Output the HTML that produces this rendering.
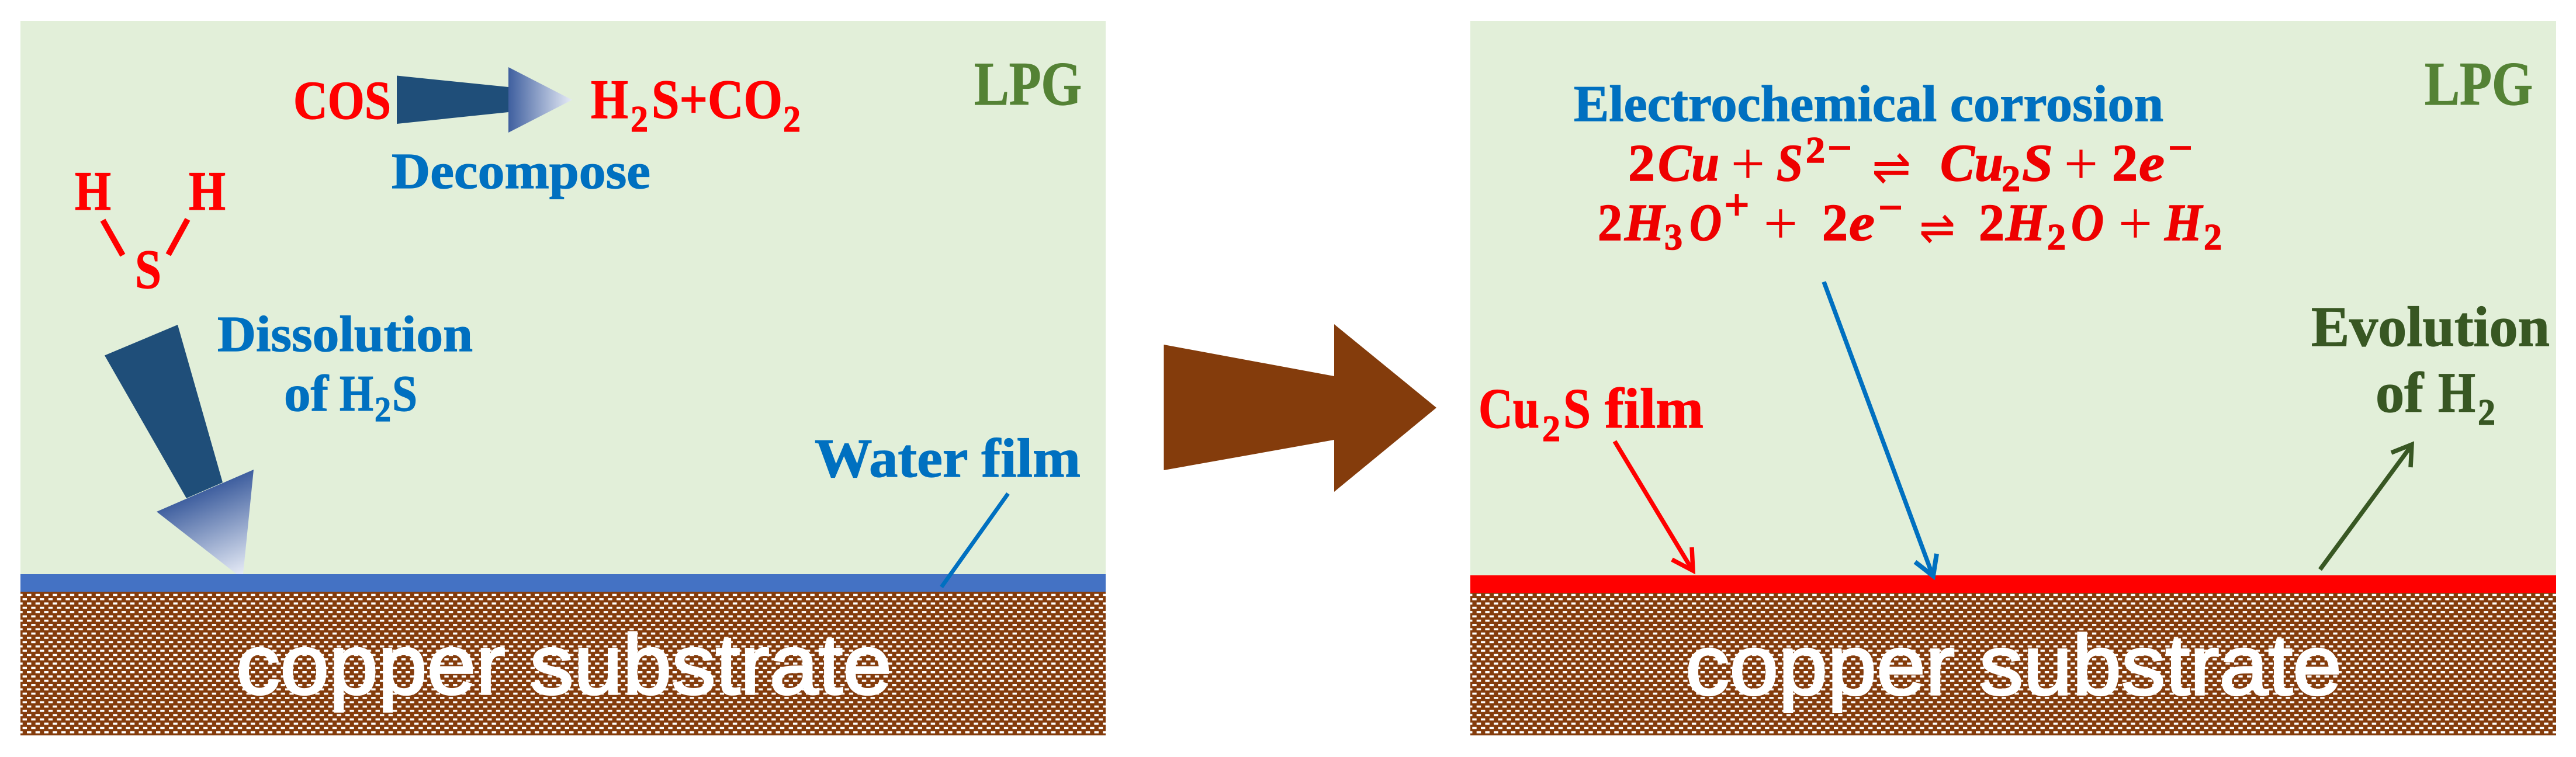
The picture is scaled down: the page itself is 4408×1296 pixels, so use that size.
<!DOCTYPE html>
<html lang="en">
<head>
<meta charset="utf-8">
<title>Copper corrosion diagram</title>
<style>
html,body{margin:0;padding:0;background:#fff;width:4408px;height:1296px;overflow:hidden}
svg{display:block}
text{font-family:"Liberation Serif",serif;font-weight:700}
.r{fill:#ff0000;stroke:#ff0000;stroke-width:1.2px}
.b{fill:#0070c0;stroke:#0070c0;stroke-width:1.2px}
.g{fill:#548235;stroke:#548235;stroke-width:1.2px}
.d{fill:#385723;stroke:#385723;stroke-width:1.2px}
.m{fill:#ee0000;stroke:#ee0000;stroke-width:1.5px}
.i{font-style:italic}
.p{font-weight:400;text-anchor:middle;stroke-width:0}
.s{font-family:"Liberation Sans",sans-serif;font-weight:400;fill:#fff;stroke:#fff;stroke-width:3.5px;font-size:146px}
.h{font-family:"DejaVu Sans",sans-serif;font-weight:400;fill:#ee0000}
</style>
</head>
<body>
<svg xmlns="http://www.w3.org/2000/svg" width="4408" height="1296" viewBox="0 0 4408 1296">
<defs>
<pattern id="brickL" patternUnits="userSpaceOnUse" x="46" y="1016.7" width="14.73" height="14.7">
<rect x="-10" y="-10" width="40" height="40" fill="#843c0c"/>
<rect x="0" y="0" width="7.5" height="3.6" fill="#fff"/>
<rect x="7.36" y="7.35" width="7.5" height="3.6" fill="#fff"/>
</pattern>
<pattern id="brickR" patternUnits="userSpaceOnUse" x="2526.7" y="1016.7" width="14.73" height="14.7">
<rect x="-10" y="-10" width="40" height="40" fill="#843c0c"/>
<rect x="0" y="0" width="7.5" height="3.6" fill="#fff"/>
<rect x="7.36" y="7.35" width="7.5" height="3.6" fill="#fff"/>
</pattern>
<linearGradient id="g1" gradientUnits="userSpaceOnUse" x1="870" y1="171" x2="979" y2="171">
<stop offset="0" stop-color="#3f5f9f"/><stop offset="1" stop-color="#e6ebf6"/>
</linearGradient>
<linearGradient id="g2" gradientUnits="userSpaceOnUse" x1="351" y1="840" x2="412" y2="985">
<stop offset="0" stop-color="#3f5f9f"/><stop offset="1" stop-color="#e6ebf6"/>
</linearGradient>
</defs>

<!-- left panel -->
<rect x="35" y="36" width="1857" height="947" fill="#e2efd9"/>
<rect x="35" y="983" width="1857" height="30" fill="#4472c4"/>
<rect x="35" y="1013" width="1857" height="246" fill="url(#brickL)"/>
<text class="s" x="404" y="1188" textLength="1122" lengthAdjust="spacingAndGlyphs">copper substrate</text>

<text class="g" x="1667" y="179" font-size="106" textLength="184" lengthAdjust="spacingAndGlyphs">LPG</text>

<text class="r" x="502" y="203" font-size="93" textLength="167" lengthAdjust="spacingAndGlyphs">COS</text>
<polygon points="679,129.5 870,149 870,192 679,212" fill="#1f4e79"/>
<polygon points="870,115 979,171 870,227" fill="url(#g1)"/>
<text class="r" x="1011" y="202" font-size="95" textLength="64" lengthAdjust="spacingAndGlyphs">H</text>
<text class="r" x="1079" y="225" font-size="64" textLength="30" lengthAdjust="spacingAndGlyphs">2</text>
<text class="r" x="1115" y="202" font-size="95" textLength="224" lengthAdjust="spacingAndGlyphs">S+CO</text>
<text class="r" x="1340" y="225" font-size="64" textLength="30" lengthAdjust="spacingAndGlyphs">2</text>
<text class="b" x="670" y="322" font-size="87" textLength="443" lengthAdjust="spacingAndGlyphs">Decompose</text>

<text class="r" x="128" y="359" font-size="95" textLength="62" lengthAdjust="spacingAndGlyphs">H</text>
<text class="r" x="323" y="359" font-size="95" textLength="63" lengthAdjust="spacingAndGlyphs">H</text>
<text class="r" x="231" y="493" font-size="95" textLength="45" lengthAdjust="spacingAndGlyphs">S</text>
<line x1="176" y1="377" x2="210" y2="437" stroke="#ff0000" stroke-width="10"/>
<line x1="321" y1="375.5" x2="288" y2="436" stroke="#ff0000" stroke-width="10"/>

<polygon points="304,556 179,608.5 319,853 381,826" fill="#1f4e79"/>
<polygon points="434,804 268,876 405,983 416,983" fill="url(#g2)"/>
<text class="b" x="372" y="601" font-size="87" textLength="437" lengthAdjust="spacingAndGlyphs">Dissolution</text>
<text class="b" x="486" y="703" font-size="88" textLength="76" lengthAdjust="spacingAndGlyphs">of</text>
<text class="b" x="581" y="703" font-size="88" textLength="58" lengthAdjust="spacingAndGlyphs">H</text>
<text class="b" x="641" y="721" font-size="60" textLength="28" lengthAdjust="spacingAndGlyphs">2</text>
<text class="b" x="671" y="703" font-size="88" textLength="43" lengthAdjust="spacingAndGlyphs">S</text>

<text class="b" x="1394" y="816" font-size="94" textLength="455" lengthAdjust="spacingAndGlyphs">Water film</text>
<line x1="1725" y1="845" x2="1611" y2="1005" stroke="#0070c0" stroke-width="7"/>

<!-- centre arrow -->
<polygon points="1991.5,590 2283,644 2283,555 2458,698 2283,842 2283,753 1991.5,805" fill="#843c0c"/>

<!-- right panel -->
<rect x="2516" y="36" width="1858" height="949" fill="#e2efd9"/>
<rect x="2516" y="985" width="1858" height="30" fill="#ff0000"/>
<rect x="2516" y="1015" width="1858" height="244" fill="url(#brickR)"/>
<text class="s" x="2884" y="1189" textLength="1123" lengthAdjust="spacingAndGlyphs">copper substrate</text>

<text class="g" x="4149" y="179" font-size="106" textLength="185" lengthAdjust="spacingAndGlyphs">LPG</text>
<text class="b" x="2693" y="207" font-size="88" textLength="1009" lengthAdjust="spacingAndGlyphs">Electrochemical corrosion</text>

<!-- equation 1 -->
<text class="m" x="2786" y="309" font-size="90" textLength="46" lengthAdjust="spacingAndGlyphs">2</text>
<text class="m i" x="2837" y="309" font-size="90" textLength="105" lengthAdjust="spacingAndGlyphs">Cu</text>
<text class="m p" x="2991" y="315" font-size="104">+</text>
<text class="m i" x="3040" y="309" font-size="90" textLength="45" lengthAdjust="spacingAndGlyphs">S</text>
<text class="m" x="3090" y="278" font-size="64" textLength="33" lengthAdjust="spacingAndGlyphs">2</text>
<text class="m" x="3148" y="278" font-size="74" text-anchor="middle">−</text>
<text class="h" x="3203" y="315" font-size="85" textLength="67" lengthAdjust="spacingAndGlyphs">⇌</text>
<text class="m i" x="3320" y="309" font-size="90" textLength="108" lengthAdjust="spacingAndGlyphs">Cu</text>
<text class="m" x="3425" y="327" font-size="64" textLength="32" lengthAdjust="spacingAndGlyphs">2</text>
<text class="m i" x="3460" y="309" font-size="90" textLength="53" lengthAdjust="spacingAndGlyphs">S</text>
<text class="m p" x="3561" y="315" font-size="104">+</text>
<text class="m" x="3614" y="309" font-size="90" textLength="44" lengthAdjust="spacingAndGlyphs">2</text>
<text class="m i" x="3660" y="309" font-size="90" textLength="44" lengthAdjust="spacingAndGlyphs">e</text>
<text class="m" x="3731" y="278" font-size="74" text-anchor="middle">−</text>

<!-- equation 2 -->
<text class="m" x="2734" y="411" font-size="90" textLength="42" lengthAdjust="spacingAndGlyphs">2</text>
<text class="m i" x="2780" y="411" font-size="90" textLength="68" lengthAdjust="spacingAndGlyphs">H</text>
<text class="m" x="2848" y="427" font-size="64" textLength="31" lengthAdjust="spacingAndGlyphs">3</text>
<text class="m i" x="2891" y="411" font-size="90" textLength="55" lengthAdjust="spacingAndGlyphs">O</text>
<text class="m" x="2972" y="376" font-size="76" text-anchor="middle">+</text>
<text class="m p" x="3047" y="417" font-size="104">+</text>
<text class="m" x="3118" y="411" font-size="90" textLength="44" lengthAdjust="spacingAndGlyphs">2</text>
<text class="m i" x="3164" y="411" font-size="90" textLength="44" lengthAdjust="spacingAndGlyphs">e</text>
<text class="m" x="3235" y="380" font-size="74" text-anchor="middle">−</text>
<text class="h" x="3284" y="417" font-size="80" textLength="62" lengthAdjust="spacingAndGlyphs">⇌</text>
<text class="m" x="3386" y="411" font-size="90" textLength="44" lengthAdjust="spacingAndGlyphs">2</text>
<text class="m i" x="3432" y="411" font-size="90" textLength="68" lengthAdjust="spacingAndGlyphs">H</text>
<text class="m" x="3503" y="427" font-size="64" textLength="32" lengthAdjust="spacingAndGlyphs">2</text>
<text class="m i" x="3544" y="411" font-size="90" textLength="56" lengthAdjust="spacingAndGlyphs">O</text>
<text class="m p" x="3654" y="417" font-size="104">+</text>
<text class="m i" x="3704" y="411" font-size="90" textLength="64" lengthAdjust="spacingAndGlyphs">H</text>
<text class="m" x="3771" y="427" font-size="64" textLength="31" lengthAdjust="spacingAndGlyphs">2</text>

<!-- blue arrow -->
<line x1="3121" y1="482.5" x2="3306" y2="982" stroke="#0070c0" stroke-width="7.5"/>
<polyline points="3314,948 3308,986 3277,962" fill="none" stroke="#0070c0" stroke-width="8"/>

<!-- Cu2S label + red arrow -->
<text class="r" x="2530" y="732" font-size="97" textLength="104" lengthAdjust="spacingAndGlyphs">Cu</text>
<text class="r" x="2639" y="755" font-size="64" textLength="31" lengthAdjust="spacingAndGlyphs">2</text>
<text class="r" x="2675" y="732" font-size="97" textLength="47" lengthAdjust="spacingAndGlyphs">S</text>
<text class="r" x="2746" y="732" font-size="97" textLength="169" lengthAdjust="spacingAndGlyphs">film</text>
<line x1="2763" y1="755.5" x2="2896" y2="976" stroke="#ff0000" stroke-width="7.5"/>
<polyline points="2895,937 2897,977 2861,958" fill="none" stroke="#ff0000" stroke-width="7.5"/>

<!-- Evolution label + green arrow -->
<text class="d" x="3955" y="592" font-size="97" textLength="408" lengthAdjust="spacingAndGlyphs">Evolution</text>
<text class="d" x="4065" y="705" font-size="97" textLength="82" lengthAdjust="spacingAndGlyphs">of</text>
<text class="d" x="4172" y="705" font-size="97" textLength="64" lengthAdjust="spacingAndGlyphs">H</text>
<text class="d" x="4240" y="727" font-size="64" textLength="30" lengthAdjust="spacingAndGlyphs">2</text>
<line x1="3970" y1="975" x2="4127" y2="762" stroke="#385723" stroke-width="7.5"/>
<polyline points="4092,775 4127,761 4125,800" fill="none" stroke="#385723" stroke-width="7.5"/>
</svg>
</body>
</html>
